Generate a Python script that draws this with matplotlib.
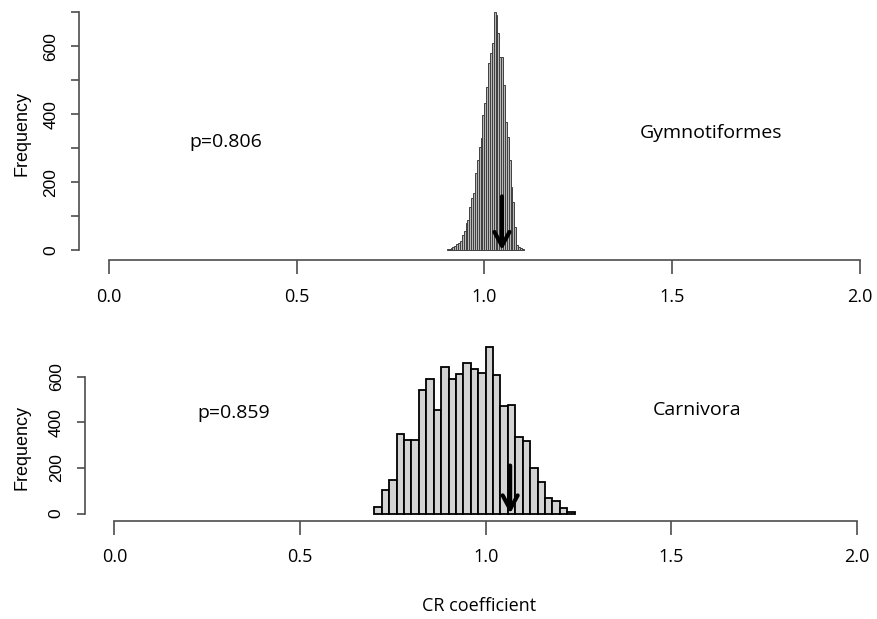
import numpy as np
import matplotlib

matplotlib.use("Agg")
import matplotlib.pyplot as plt

# bin edges and counts
gym_bin_start = 0.900
gym_bin_width = 0.005
gym_counts = [2, 3, 5, 8, 12, 18, 20, 28, 44, 55, 80, 88, 128, 152, 167, 226,
              265, 305, 330, 398, 432, 480, 550, 580, 610, 700, 693, 638, 570,
              570, 485, 377, 333, 265, 186, 142, 69, 15, 8, 5, 2]
gym_observed = 1.047
gym_arrow_top = 158
gym_label = "Gymnotiformes"
gym_p = "p=0.806"

car_bin_start = 0.70
car_bin_width = 0.02
car_counts = [29, 104, 146, 347, 324, 320, 540, 590, 455, 642, 591, 610, 660,
              632, 615, 731, 606, 470, 474, 334, 318, 200, 136, 69, 55, 23, 6]
car_observed = 1.066
car_arrow_top = 210
car_label = "Carnivora"
car_p = "p=0.859"

x_ticks = [0.0, 0.5, 1.0, 1.5, 2.0]
x_ticklabels = ["0.0", "0.5", "1.0", "1.5", "2.0"]
gym_yticks = [0, 100, 200, 300, 400, 500, 600, 700]
gym_yticklabels = ["0", "", "200", "", "400", "", "600", ""]
car_yticks = [0, 200, 400, 600]
car_yticklabels = ["0", "200", "400", "600"]

TEXT_FONT = "Open Sans"
NUM_FONT = "Liberation Sans"
AXIS_COLOR = "0.3"

fig = plt.figure(figsize=(8.77, 6.19), dpi=100)
ax_top = fig.add_axes([0.0901, 0.5796, 0.9243, 0.4168])
ax_bot = fig.add_axes([0.0965, 0.1590, 0.9145, 0.2954])


def style_axes(ax, yticks, yticklabels, ylim):
    ax.set_xlim(-0.08, 2.08)
    ax.set_ylim(*ylim)
    for side in ("top", "right"):
        ax.spines[side].set_visible(False)
    for side in ("left", "bottom"):
        ax.spines[side].set_color(AXIS_COLOR)
        ax.spines[side].set_linewidth(1.2)
    ax.spines["bottom"].set_bounds(0, 2)
    ax.spines["left"].set_bounds(yticks[0], yticks[-1])
    ax.set_xticks(x_ticks)
    ax.set_xticklabels(x_ticklabels, fontfamily=TEXT_FONT, fontsize=13)
    ax.set_yticks(yticks)
    ax.set_yticklabels(yticklabels, fontfamily=NUM_FONT, fontsize=12.5,
                       rotation=90, va="center")
    ax.tick_params(axis="x", length=10, width=1.2, color=AXIS_COLOR, pad=10)
    ax.tick_params(axis="y", length=6, width=1.2, color=AXIS_COLOR, pad=9)
    ax.patch.set_visible(False)


def draw_hist(ax, start, width, counts, face, edge, lw):
    edges = start + width * np.arange(len(counts) + 1)
    ax.bar(edges[:-1], counts, width=width, align="edge", color=face,
           edgecolor=edge, linewidth=lw)


def draw_arrow(ax, x, top):
    ax.annotate("", xy=(x, 0), xytext=(x, top),
                arrowprops=dict(arrowstyle="->,head_length=0.55,head_width=0.3",
                                lw=3, color="black", mutation_scale=18,
                                shrinkA=0, shrinkB=0))


# Gymnotiformes panel
draw_hist(ax_top, gym_bin_start, gym_bin_width, gym_counts, "0.72", "0.25", 0.7)
draw_arrow(ax_top, gym_observed, gym_arrow_top)
style_axes(ax_top, gym_yticks, gym_yticklabels, (-30, 730))
ax_top.text(0.312, 318, gym_p, ha="center", va="center",
            fontfamily=TEXT_FONT, fontsize=14)
ax_top.text(1.604, 345, gym_label, ha="center", va="center",
            fontfamily=TEXT_FONT, fontsize=14)

# Carnivora panel
draw_hist(ax_bot, car_bin_start, car_bin_width, car_counts, "#d3d3d3", "black", 1.3)
draw_arrow(ax_bot, car_observed, car_arrow_top)
style_axes(ax_bot, car_yticks, car_yticklabels, (-31, 770))
ax_bot.text(0.322, 440, car_p, ha="center", va="center",
            fontfamily=TEXT_FONT, fontsize=14)
ax_bot.text(1.57, 453, car_label, ha="center", va="center",
            fontfamily=TEXT_FONT, fontsize=14)

fig.text(22 / 877, 1 - 133 / 619, "Frequency", rotation=90, ha="center",
         va="center", fontfamily=NUM_FONT, fontsize=13)
fig.text(22 / 877, 1 - 447 / 619, "Frequency", rotation=90, ha="center",
         va="center", fontfamily=NUM_FONT, fontsize=13)
fig.text(479 / 877, 1 - 606 / 619, "CR coefficient", ha="center", va="center",
         fontfamily=TEXT_FONT, fontsize=13)

fig.savefig("out.png", dpi=100)
